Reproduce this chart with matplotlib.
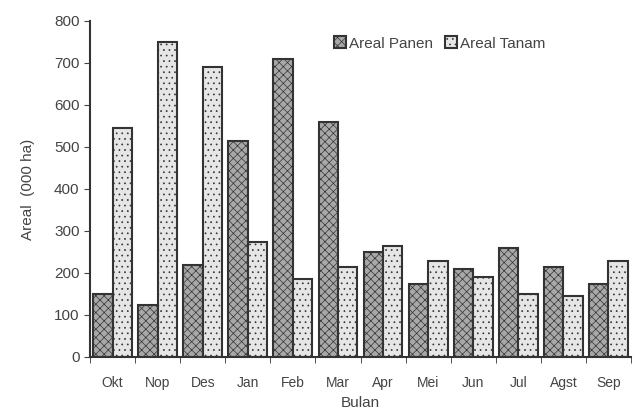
import numpy as np
import matplotlib
matplotlib.use('Agg')
import matplotlib.pyplot as plt

# Data (000 ha)
bulan = ['Okt', 'Nop', 'Des', 'Jan', 'Feb', 'Mar', 'Apr', 'Mei', 'Jun', 'Jul', 'Agst', 'Sep']
areal_panen = [150, 125, 220, 515, 710, 560, 250, 175, 210, 260, 215, 175]
areal_tanam = [545, 750, 690, 275, 185, 215, 265, 228, 190, 150, 145, 228]

plt.rcParams['font.family'] = ['Liberation Sans', 'DejaVu Sans']
plt.rcParams['hatch.linewidth'] = 0.5
plt.rcParams['hatch.color'] = '#707070'

fig = plt.figure(figsize=(6.39, 4.16), dpi=100)
ax = fig.add_axes([90/639, 59/416, 541/639, 336/416])

x = np.arange(len(bulan))
w = 0.43
ax.bar(x - w/2, areal_panen, w, color='#a8a8a8', edgecolor='#333333', linewidth=1.5,
       hatch='xxxx', label='Areal Panen')
ax.bar(x + w/2, areal_tanam, w, color='#e6e6e6', edgecolor='#333333', linewidth=1.5,
       hatch='...', label='Areal Tanam')

ax.set_xlim(-0.5, len(bulan) - 0.5)
ax.set_ylim(0, 800)
ax.set_yticks(np.arange(0, 801, 100))
ax.set_xticks(x)
ax.set_xticklabels(bulan)
ax.set_xticks(np.arange(-0.5, len(bulan), 1), minor=True)
ax.tick_params(axis='x', which='major', length=0, pad=14, labelsize=10, colors='#444444')
ax.tick_params(axis='x', which='minor', length=4, direction='out', color='#333333')
ax.tick_params(axis='y', length=4, direction='out', labelsize=11, colors='#444444')

for s in ['top', 'right']:
    ax.spines[s].set_visible(False)
for s in ['left', 'bottom']:
    ax.spines[s].set_linewidth(1.5)
    ax.spines[s].set_color('#333333')

ax.set_ylabel('Areal  (000 ha)', fontsize=11, color='#444444', labelpad=14)
ax.set_xlabel('Bulan', fontsize=11, color='#444444', labelpad=4)

ax.legend(loc='upper left', bbox_to_anchor=(0.425, 0.995), ncol=2, frameon=False,
          fontsize=11, handlelength=0.8, handleheight=0.8, handletextpad=0.2,
          columnspacing=0.8, labelcolor='#444444')

plt.savefig('out.png', dpi=100)
